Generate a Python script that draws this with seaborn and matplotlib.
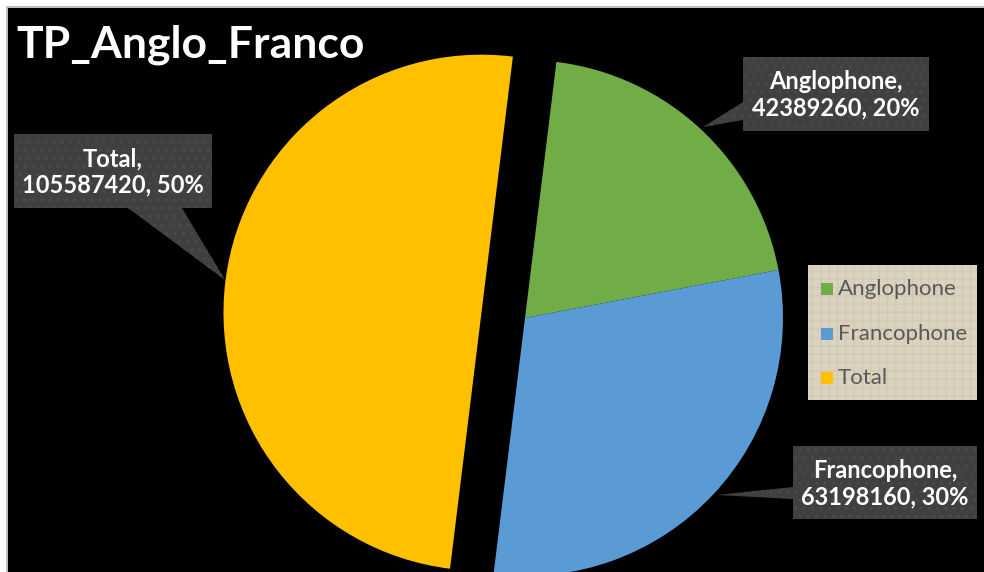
"""
Camembert TP_Anglo_Franco : répartition Anglophone / Francophone / Total.
"""
import matplotlib
matplotlib.use("Agg")
import matplotlib.pyplot as plt
from matplotlib.patches import Polygon, Rectangle
import seaborn as sns

# Données
categories = ["Anglophone", "Francophone", "Total"]
values = [42389260, 63198160, 105587420]
explode = [0, 0, 0.17]
colors = ["#70AD47", "#5B9BD5", "#FFC000"]
title = "TP_Anglo_Franco"

W, H = 984, 572
sns.set_theme(style="dark")
plt.rcParams['font.family'] = ['Lato', 'DejaVu Sans']


def px(x, y):
    """Pixels (origine en haut à gauche) -> fraction de figure."""
    return (x / W, 1 - y / H)


fig = plt.figure(figsize=(W / 100, H / 100), dpi=100, facecolor="black")
ax = fig.add_axes([0, 0, 1, 1])
ax.set_facecolor("black")

# Pie: centre à (525, 318) px, rayon 258 px
r_px = 258
cx, cy = 525, 318
ax.pie(values, explode=explode, colors=colors, startangle=83,
       counterclock=False, radius=1, wedgeprops=dict(linewidth=0))
ax.set_xlim(-cx / r_px, (W - cx) / r_px)
ax.set_ylim(-(H - cy) / r_px, cy / r_px)
ax.set_aspect("equal")
ax.axis("off")

# Titre
fig.text(*px(16, 45), title, color="white", fontsize=32, fontweight="bold",
         va="center", ha="left")

# Étiquettes (callouts)
total = sum(values)
labels = [f"{c},\n{v}, {v / total * 100:.0f}%" for c, v in zip(categories, values)]

callouts = {
    "Anglophone": dict(box=(743, 57, 929, 131),
                       pointer=[(743, 102), (703, 127), (743, 120)], side="left"),
    "Francophone": dict(box=(793, 446, 977, 519),
                        pointer=[(793, 487), (717, 495), (793, 499)], side="left"),
    "Total": dict(box=(14, 134, 212, 208),
                  pointer=[(128, 208), (225, 280), (182, 208)], side="bottom"),
}

for cat, lab in zip(categories, labels):
    c = callouts[cat]
    x0, y0, x1, y1 = c["box"]
    p = c["pointer"]
    if c["side"] == "left":
        pts = [(x0, y0), (x1, y0), (x1, y1), (x0, y1), p[2], p[1], p[0]]
    else:
        pts = [(x0, y0), (x1, y0), (x1, y1), p[2], p[1], p[0], (x0, y1)]
    poly_pts = [px(*q) for q in pts]
    fig.add_artist(Polygon(poly_pts, closed=True, transform=fig.transFigure,
                           facecolor="#404040", edgecolor="none", zorder=3))
    fig.add_artist(Polygon(poly_pts, closed=True, transform=fig.transFigure,
                           facecolor="none", edgecolor="#4b4b4b", hatch="..",
                           linewidth=0, zorder=3))
    fig.text(*px((x0 + x1) / 2, (y0 + y1) / 2 + 1), lab, color="white",
             fontsize=17, fontweight="bold", ha="center", va="center",
             linespacing=1.2, zorder=4)

# Légende
fig.add_artist(Rectangle(px(808, 400), (977 - 808) / W, (400 - 265) / H,
                         transform=fig.transFigure, facecolor="#dbd2bf",
                         edgecolor="none", zorder=3))
fig.add_artist(Rectangle(px(808, 400), (977 - 808) / W, (400 - 265) / H,
                         transform=fig.transFigure, facecolor="none",
                         edgecolor="#d2c8b3", hatch="++", linewidth=0, zorder=3))
for i, (cat, col) in enumerate(zip(categories, colors)):
    yy = 289 + i * 44.5
    fig.add_artist(Rectangle(px(821, yy + 6), 12 / W, 12 / H,
                             transform=fig.transFigure, facecolor=col,
                             edgecolor="none", zorder=4))
    fig.text(*px(838, yy), cat, color="#595959", fontsize=16,
             ha="left", va="center", zorder=4)

# Cadre gris / marge blanche en haut et à gauche
fig.add_artist(Rectangle((0, 1 - 6 / H), 1, 6 / H, transform=fig.transFigure,
                         facecolor="white", edgecolor="none", zorder=5))
fig.add_artist(Rectangle((0, 0), 6 / W, 1, transform=fig.transFigure,
                         facecolor="white", edgecolor="none", zorder=5))
fig.add_artist(Rectangle((6 / W, 1 - 8 / H), 1, 2 / H, transform=fig.transFigure,
                         facecolor="#bfbfbf", edgecolor="none", zorder=5))
fig.add_artist(Rectangle((6 / W, 0), 2 / W, 1 - 6 / H, transform=fig.transFigure,
                         facecolor="#bfbfbf", edgecolor="none", zorder=5))

fig.savefig("out.png", dpi=100, facecolor="black")
